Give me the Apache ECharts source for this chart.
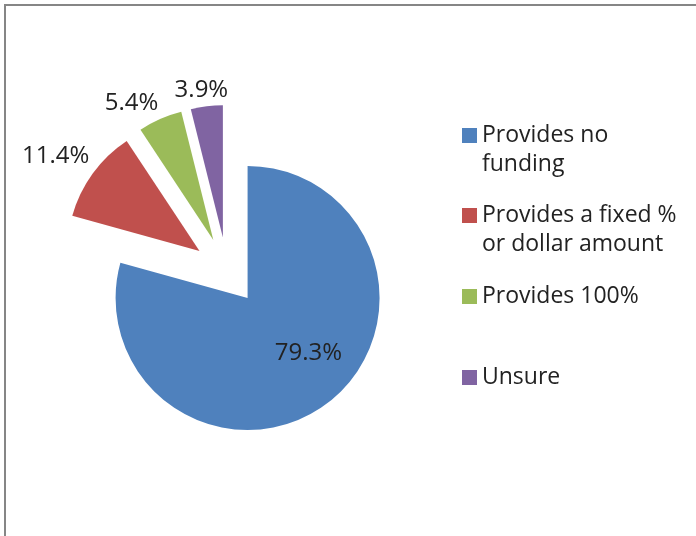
<!DOCTYPE html>
<html>
<head>
<meta charset="utf-8">
<script src="https://cdn.jsdelivr.net/npm/echarts@6/dist/echarts.min.js"></script>
<style>
  html, body { margin: 0; padding: 0; background: #fff; }
  #chart { width: 696px; height: 536px; }
</style>
</head>
<body>
<div id="chart"></div>
<script>
const categories = ['Provides no funding', 'Provides a fixed % or dollar amount', 'Provides 100%', 'Unsure'];
const legendLines = ['Provides no\nfunding', 'Provides a fixed %\nor dollar amount', 'Provides 100%', 'Unsure'];
const values = [79.3, 11.4, 5.4, 3.9];
const colors = ['#4F81BD', '#C0504D', '#9BBB59', '#8064A2'];

const labelShift = [[19, 0], [-88, -54], [-54, -74], [-13, -79]];
const legendTops = [87, 167, 277, 358];
const FONT = '"Open Sans"';
const LH = 29;

const chart = echarts.init(document.getElementById('chart'), null, { renderer: 'canvas' });

const data = categories.map((name, i) => ({
  name: name,
  value: values[i],
  selected: true,
  itemStyle: { color: colors[i] }
}));

const legends = categories.map((name, i) => {
  const twoLine = legendLines[i].indexOf('\n') >= 0;
  return {
    data: [name],
    orient: 'vertical',
    left: 457,
    top: legendTops[i],
    itemWidth: 15,
    itemHeight: 15,
    itemGap: 0,
    icon: 'rect',
    selectedMode: false,
    formatter: () => (twoLine ? '\n' : '') + legendLines[i],
    textStyle: {
      fontFamily: FONT,
      fontSize: 23,
      color: '#222',
      lineHeight: LH
    }
  };
});

chart.setOption({
  animation: false,
  backgroundColor: '#fff',
  legend: legends,
  graphic: [{
    type: 'polyline',
    shape: { points: [[5, 536], [5, 5], [696, 5]] },
    style: { stroke: '#868686', lineWidth: 2, fill: null }
  }],
  series: [{
    type: 'pie',
    center: [227, 271],
    radius: 132,
    startAngle: 90,
    clockwise: true,
    selectedMode: 'multiple',
    selectedOffset: 34,
    avoidLabelOverlap: false,
    emphasis: { disabled: true, scale: false },
    labelLine: { show: false },
    label: {
      show: true,
      position: 'inside',
      fontFamily: FONT,
      fontSize: 24,
      color: '#222',
      formatter: p => p.value.toFixed(1) + '%'
    },
    labelLayout: p => ({ dx: labelShift[p.dataIndex][0], dy: labelShift[p.dataIndex][1] }),
    itemStyle: { borderWidth: 0 },
    data: data
  }]
});
</script>
</body>
</html>
